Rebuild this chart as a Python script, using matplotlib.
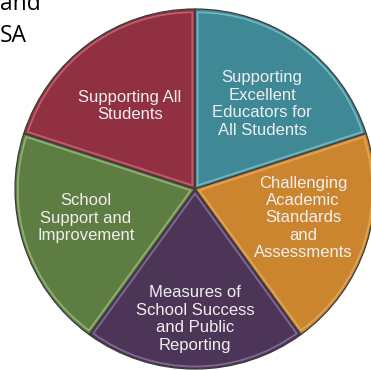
import matplotlib
matplotlib.use("Agg")
import matplotlib.pyplot as plt
from matplotlib.patches import Wedge
import numpy as np

# slices clockwise from 12 o'clock
labels = [
    "Supporting\nExcellent\nEducators for\nAll Students",
    "Challenging\nAcademic\nStandards\nand\nAssessments",
    "Measures of\nSchool Success\nand Public\nReporting",
    "School\nSupport and\nImprovement",
    "Supporting All\nStudents",
]
values = [1, 1, 1, 1, 1]
colors = ["#3F8997", "#CC852F", "#4D3557", "#5E7D42", "#913040"]
highlights = ["#9FE0E6", "#F2C27A", "#B49BD0", "#BFE3A0", "#E8909A"]
# label centre offsets from pie centre, in pixels (x right, y up)
label_dx = [67, 108, 0, -109, -65]
label_dy = [85, -29, -130, -29, 83]

W, H = 371, 370
cx, cy, R = 195, 181, 180

fig = plt.figure(figsize=(W / 100, H / 100), dpi=100)
ax = fig.add_axes([0, 0, 1, 1])

wedges, _ = ax.pie(values, colors=colors, startangle=90, counterclock=False,
                   center=(cx, cy), radius=R, frame=True,
                   wedgeprops=dict(edgecolor="#3a3a3a", linewidth=0.9))
ax.set_xlim(0, W)
ax.set_ylim(0, H)
ax.set_aspect("equal")
ax.axis("off")

# inner bevel highlight
for w, hc in zip(wedges, highlights):
    mid = np.deg2rad((w.theta1 + w.theta2) / 2)
    off = 4.5
    ax.add_patch(Wedge((cx + off * np.cos(mid), cy + off * np.sin(mid)), R - 7,
                       w.theta1, w.theta2, fill=False, edgecolor=hc,
                       linewidth=1.3, alpha=0.5))

for lab, dx, dy in zip(labels, label_dx, label_dy):
    ax.text(cx + dx, cy + dy, lab, ha="center", va="center", ma="center",
            fontsize=12, color="#EFEFEF", family="Liberation Sans",
            linespacing=1.2)

ax.text(0, H - 10, "and", ha="left", va="baseline", fontsize=16.5,
        color="black", family="Open Sans")
ax.text(0, H - 42, "SA", ha="left", va="baseline", fontsize=16.5,
        color="black", family="Open Sans")

fig.savefig("out.png", dpi=100, facecolor="white")
